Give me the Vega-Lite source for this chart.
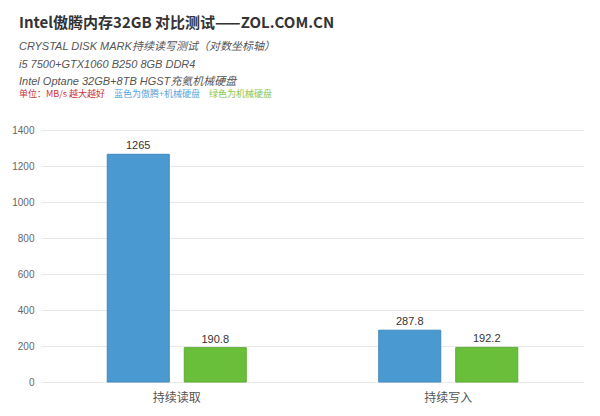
{
  "$schema": "https://vega.github.io/schema/vega-lite/v6.json",
  "width": 543,
  "height": 252,
  "padding": {"left": 11, "right": 17, "top": 16, "bottom": 8},
  "background": "white",
  "config": {"view": {"stroke": null}, "font": "Liberation Sans, Noto Sans CJK SC"},
  "title": {
    "text": "Intel傲腾内存32GB 对比测试——ZOL.COM.CN",
    "subtitle": ["CRYSTAL DISK MARK持续读写测试（对数坐标轴）", "i5 7500+GTX1060 B250 8GB DDR4", "Intel Optane 32GB+8TB HGST充氦机械硬盘"],
    "anchor": "start",
    "frame": "group",
    "dx": -22,
    "font": "Noto Sans CJK SC",
    "fontSize": 15,
    "fontWeight": "bold",
    "color": "#333333",
    "subtitleFont": "Liberation Sans, Noto Sans CJK SC",
    "subtitleFontStyle": "italic",
    "subtitleFontSize": 11,
    "subtitleColor": "#555555",
    "subtitleLineHeight": 17.5,
    "subtitlePadding": 10,
    "offset": 2
  },
  "data": {"values": [
    {"test": "持续读取", "series": "蓝色为傲腾+机械硬盘", "value": 1265, "label": "1265"},
    {"test": "持续读取", "series": "绿色为机械硬盘", "value": 190.8, "label": "190.8"},
    {"test": "持续写入", "series": "蓝色为傲腾+机械硬盘", "value": 287.8, "label": "287.8"},
    {"test": "持续写入", "series": "绿色为机械硬盘", "value": 192.2, "label": "192.2"}
  ]},
  "encoding": {
    "x": {
      "field": "test", "type": "nominal", "sort": null,
      "scale": {"paddingInner": 0, "paddingOuter": 0},
      "axis": {"title": null, "domain": false, "ticks": false, "labelAngle": 0, "labelPadding": 10, "labelFontSize": 12, "labelColor": "#555555", "labelFont": "Noto Sans CJK SC"}
    },
    "xOffset": {"field": "series", "type": "nominal", "sort": null, "scale": {"domain": ["蓝色为傲腾+机械硬盘", "绿色为机械硬盘"], "paddingInner": 0.195, "paddingOuter": 0.86}},
    "y": {
      "field": "value", "type": "quantitative",
      "scale": {"domain": [0, 1400]},
      "axis": {"title": null, "domain": false, "ticks": false, "format": "d", "values": [0, 200, 400, 600, 800, 1000, 1200, 1400], "labelPadding": 7, "labelFontSize": 10, "labelColor": "#666666", "gridColor": "#e8e8e8"}
    }
  },
  "layer": [
    {
      "mark": {"type": "bar", "strokeWidth": 1},
      "encoding": {
        "color": {
          "field": "series", "type": "nominal",
          "scale": {"domain": ["蓝色为傲腾+机械硬盘", "绿色为机械硬盘"], "range": ["#4a9ad1", "#6abf3a"]},
          "legend": {
            "orient": "none", "legendX": -22, "legendY": -41, "direction": "horizontal", "padding": 0,
            "title": "单位：MB/s 越大越好", "titleColor": "#cc3333", "titleOrient": "left",
            "titleFontSize": 9, "titleFontWeight": "normal", "titleFont": "Noto Sans CJK SC", "titlePadding": 0,
            "labelFontSize": 9, "labelFont": "Noto Sans CJK SC", "symbolSize": 0, "symbolOpacity": 0, "symbolStrokeWidth": 0,
            "labelOffset": 0, "columnPadding": 0,
            "encode": {"labels": {"update": {"fill": {"signal": "datum.value == '蓝色为傲腾+机械硬盘' ? '#55a7dc' : '#86c653'"}}}}
          }
        },
        "stroke": {
          "field": "series", "type": "nominal",
          "scale": {"domain": ["蓝色为傲腾+机械硬盘", "绿色为机械硬盘"], "range": ["#3f88bb", "#5daa33"]},
          "legend": null
        }
      }
    },
    {
      "mark": {"type": "text", "dy": -8, "fontSize": 11, "color": "#333333"},
      "encoding": {"text": {"field": "label"}}
    }
  ]
}
